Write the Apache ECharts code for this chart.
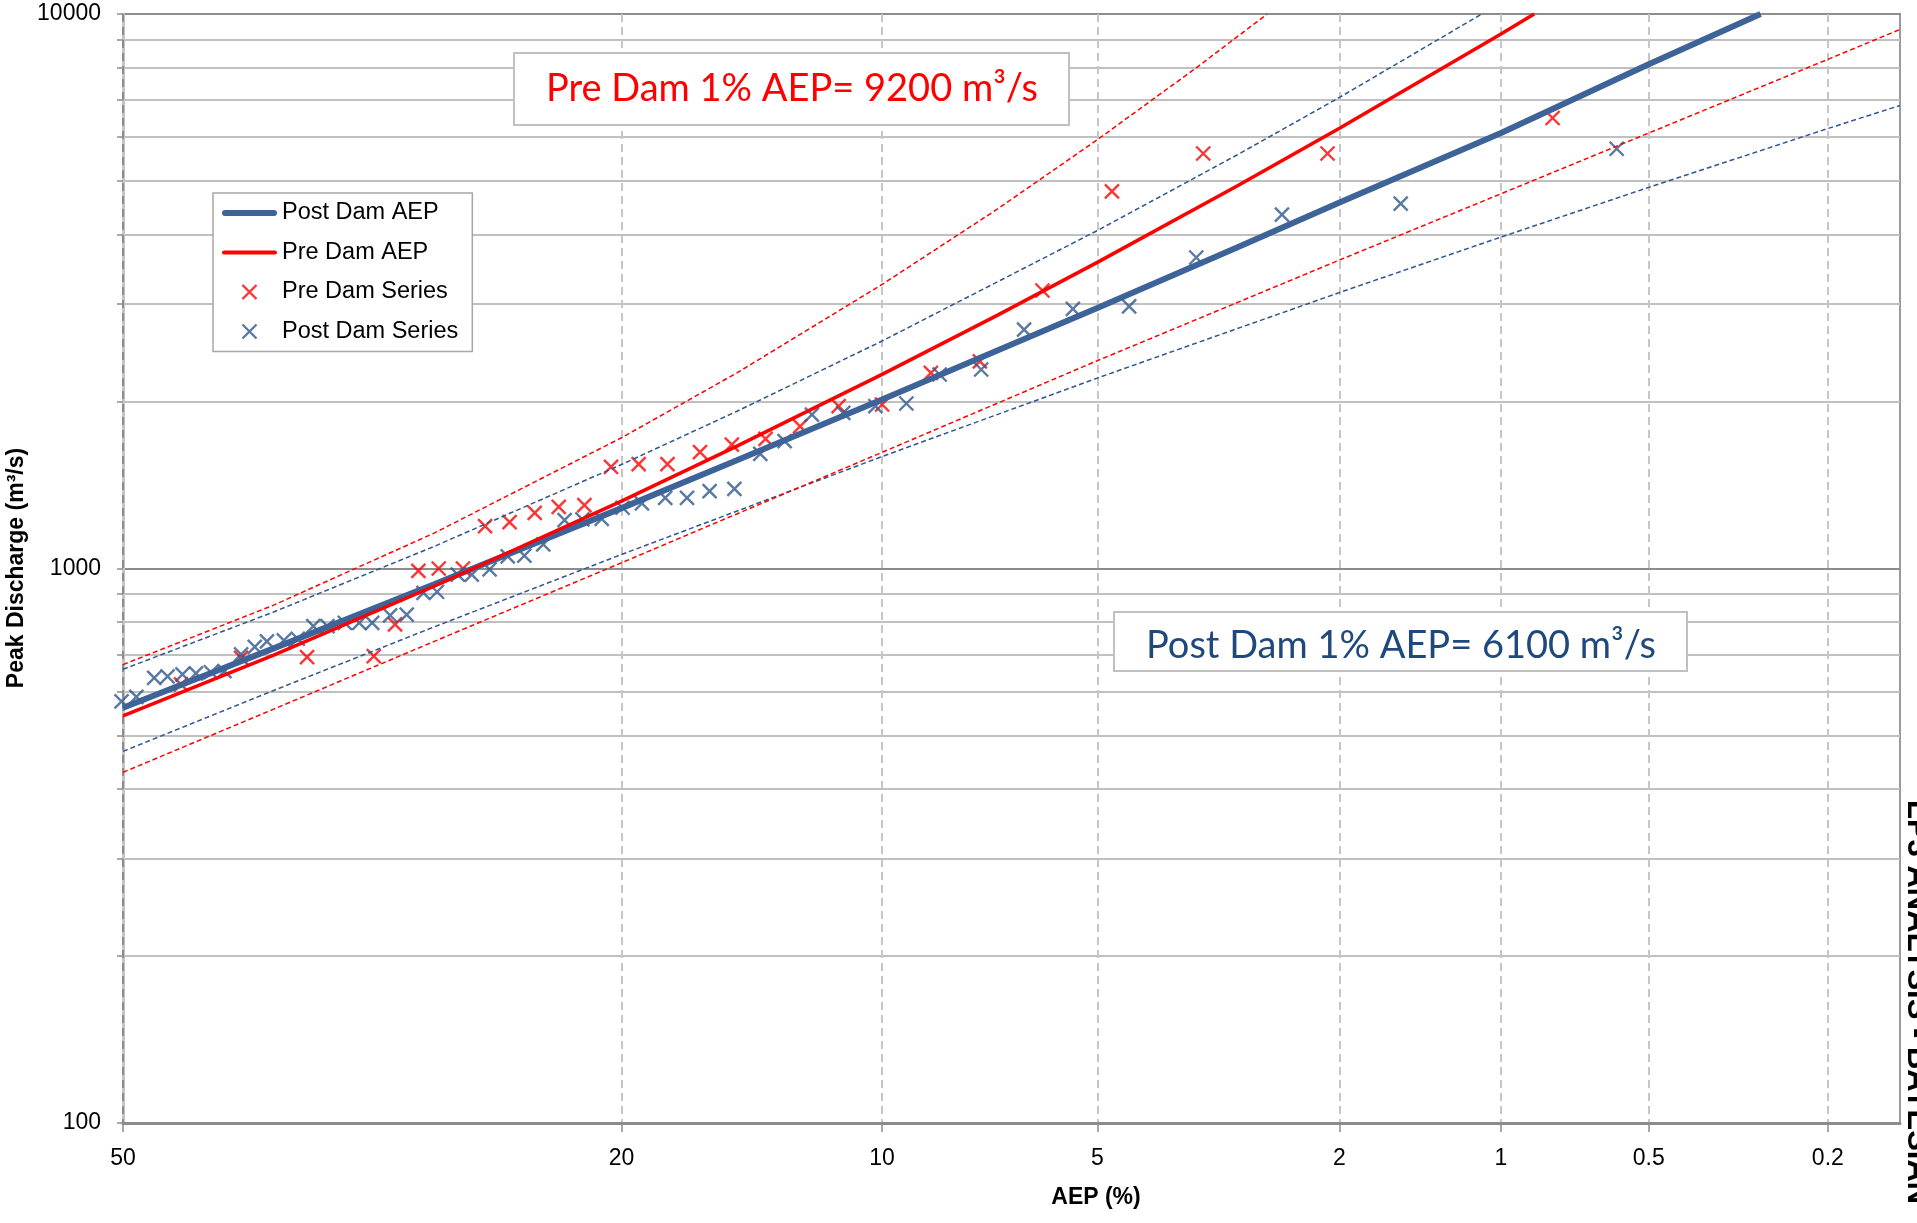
<!DOCTYPE html>
<html lang="en">

<head>
    <meta charset="UTF-8">
    <title>Flood Frequency - Pre and Post Dam</title>
    <style>
        html, body { margin: 0; padding: 0; background: #fff; }
    </style>
</head>

<body>
    <div id="main" style="width:1917px;height:1223px;"></div>
</body>

<script src="https://cdn.jsdelivr.net/npm/echarts@6/dist/echarts.min.js"></script>
<script>
    // x axis ticks (AEP %)
    var aepTicks = [50, 20, 10, 5, 2, 1, 0.5, 0.2];
    var qTicks = [100, 200, 300, 400, 500, 600, 700, 800, 900,
        1000, 2000, 3000, 4000, 5000, 6000, 7000, 8000, 9000, 10000];
    var qLabels = [100, 1000, 10000];

    // fitted curves
    var postAep = [50, 40, 30, 20, 15, 10, 5, 3, 2, 1, 0.5, 0.285];
    var postQ = [561, 717, 936, 1285, 1567, 2017, 2951, 3794, 4571, 6100, 8116, 10000];
    var preAep = [50, 40, 30, 20, 15, 10, 7, 5, 3, 2, 1, 0.86];
    var preQ = [542, 697, 928, 1323, 1662, 2239, 2861, 3565, 4895, 6223, 9200, 10000];

    // confidence limits
    var preUpAep = [50, 40, 30, 20, 15, 10, 7, 5, 3.5, 2.67];
    var preUpQ = [671, 858, 1157, 1721, 2253, 3253, 4446, 5932, 7998, 10000];
    var preLoAep = [50, 40, 30, 20, 10, 5, 2, 1, 0.5, 0.2, 0.135];
    var preLoQ = [429, 557, 738, 1024, 1620, 2370, 3600, 4740, 6100, 8283, 9378];
    var postUpAep = [50, 40, 30, 20, 15, 10, 5, 3, 2, 1.09];
    var postUpQ = [658, 834, 1095, 1540, 1921, 2572, 4068, 5569, 7072, 10000];
    var postLoAep = [50, 40, 30, 20, 10, 5, 2, 1, 0.5, 0.2, 0.135];
    var postLoQ = [468, 602, 784, 1060, 1592, 2205, 3146, 3960, 4868, 6214, 6839];

    // observed series
    var preSeriesAep = [46.1, 42.1, 37.8, 33.6, 32.3, 30.9, 29.7, 28.3, 27.05, 25.7, 24.35, 23.1, 21.8,
        20.5, 19.2, 17.9, 16.5, 15.2, 13.9, 12.65, 11.35, 10.0, 8.63, 7.4, 6.03, 4.75, 3.41, 2.1, 0.79];
    var preSeriesQ = [618, 690, 692, 695, 793, 990, 1000, 1000, 1192, 1212, 1260, 1292, 1301,
        1525, 1542, 1542, 1621, 1673, 1713, 1805, 1962, 1976, 2254, 2363, 3172, 4786, 5603, 5603, 6493];
    var postSeriesAep = [50.1, 49.1, 47.9, 47.0, 46.0, 45.1, 44.1, 43.2, 42.1, 41.2, 40.4, 39.3, 38.4,
        37.4, 36.5, 35.4, 34.5, 33.7, 32.6, 31.6, 30.6, 29.8, 28.6, 27.8, 26.8, 25.8, 24.9, 23.9, 22.8,
        21.9, 20.95, 19.95, 19.05, 18.0, 17.05, 16.1, 15.1, 14.1, 13.2, 12.24, 11.2, 10.2, 9.3, 8.4,
        7.37, 6.41, 5.44, 4.47, 3.5, 2.52, 1.55, 0.584];
    var postSeriesQ = [576, 587, 635, 639, 644, 647, 650, 653, 700, 722, 739, 742, 747,
        787, 787, 798, 798, 798, 823, 826, 904, 908, 975, 975, 996, 1052, 1055, 1105, 1222,
        1226, 1229, 1287, 1310, 1341, 1341, 1379, 1392, 1610, 1697, 1895, 1909, 1962, 1984, 2238,
        2285, 2697, 2940, 2970, 3638, 4346, 4550, 5715];

    // inverse standard normal (Acklam) - probability paper
    function normInv(p) {
        var a = [-3.969683028665376e+01, 2.209460984245205e+02, -2.759285104469687e+02, 1.383577518672690e+02, -3.066479806614716e+01, 2.506628277459239e+00];
        var b = [-5.447609879822406e+01, 1.615858368580409e+02, -1.556989798598866e+02, 6.680131188771972e+01, -1.328068155288572e+01];
        var c = [-7.784894002430293e-03, -3.223964580411365e-01, -2.400758277161838e+00, -2.549732539343734e+00, 4.374664141464968e+00, 2.938163982698783e+00];
        var d = [7.784695709041462e-03, 3.224671290700398e-01, 2.445134137142996e+00, 3.754408661907416e+00];
        var pl = 0.02425, q, r;
        if (p < pl) {
            q = Math.sqrt(-2 * Math.log(p));
            return (((((c[0] * q + c[1]) * q + c[2]) * q + c[3]) * q + c[4]) * q + c[5]) / ((((d[0] * q + d[1]) * q + d[2]) * q + d[3]) * q + 1);
        }
        if (p <= 1 - pl) {
            q = p - 0.5; r = q * q;
            return (((((a[0] * r + a[1]) * r + a[2]) * r + a[3]) * r + a[4]) * r + a[5]) * q / (((((b[0] * r + b[1]) * r + b[2]) * r + b[3]) * r + b[4]) * r + 1);
        }
        q = Math.sqrt(-2 * Math.log(1 - p));
        return -(((((c[0] * q + c[1]) * q + c[2]) * q + c[3]) * q + c[4]) * q + c[5]) / ((((d[0] * q + d[1]) * q + d[2]) * q + d[3]) * q + 1);
    }
    function aepToZ(aep) {
        return -normInv(aep / 100) + 0;
    }
    function pairs(aeps, qs) {
        return aeps.map(function (a, i) { return [aepToZ(a), qs[i]]; });
    }

    var blue = '#3d6398';
    var blueMark = '#2f578f';
    var red = '#ff0000';
    var font = 'Liberation Sans, Arial, sans-serif';
    var xMark = 'path://M0,0L14,14M14,0L0,14';

    var main = echarts.init(document.getElementById('main'));

    var dashed = function (name, aeps, qs, color) {
        return {
            name: name,
            type: 'line',
            data: pairs(aeps, qs),
            symbol: 'none',
            lineStyle: { color: color, width: 1.5, type: [5, 3] },
            silent: true
        };
    };

    var option = {
        animation: false,
        backgroundColor: '#fff',
        grid: {
            left: 123, right: 17, top: 14, bottom: 100,
            show: true, borderColor: '#9a9a9a', borderWidth: 2, backgroundColor: 'transparent'
        },
        legend: {
            orient: 'vertical',
            left: 213, top: 193,
            padding: [8, 14, 8, 9],
            itemGap: 15.5,
            itemWidth: 55,
            itemHeight: 14,
            backgroundColor: '#fff',
            borderColor: '#a6a6a6',
            borderWidth: 1.5,
            textStyle: { fontFamily: font, fontSize: 23.5, color: '#000' },
            data: [
                { name: 'Post Dam AEP', icon: 'path://M3,0L52,0A3,3 0 0 1 52,6L3,6A3,3 0 0 1 3,0Z', itemStyle: { color: blue, borderWidth: 0 } },
                { name: 'Pre Dam AEP', icon: 'path://M2,0L53,0A2,2 0 0 1 53,4L2,4A2,2 0 0 1 2,0Z', itemStyle: { color: red, borderWidth: 0 } },
                { name: 'Pre Dam Series', itemStyle: { color: 'transparent', borderColor: red, borderWidth: 2.4 } },
                { name: 'Post Dam Series', itemStyle: { color: 'transparent', borderColor: blueMark, borderWidth: 2.4 } }
            ]
        },
        xAxis: {
            type: 'value',
            min: 0,
            max: 3,
            z: 1,
            axisLine: { lineStyle: { color: '#8c8c8c', width: 3 } },
            axisTick: {
                customValues: aepTicks.map(aepToZ),
                length: 9,
                lineStyle: { color: '#8c8c8c', width: 1.5 }
            },
            axisLabel: {
                customValues: aepTicks.map(aepToZ),
                margin: 24,
                fontFamily: font,
                fontSize: 23,
                color: '#000',
                formatter: function (v) {
                    for (var i = 0; i < aepTicks.length; i++) {
                        if (Math.abs(aepToZ(aepTicks[i]) - v) < 1e-6) return String(aepTicks[i]);
                    }
                    return '';
                }
            },
            splitLine: {
                show: true,
                lineStyle: {
                    color: ['#8c8c8c', '#c6c6c6', '#c6c6c6', '#c6c6c6', '#c6c6c6', '#c6c6c6', '#c6c6c6', '#c6c6c6'],
                    width: 2,
                    type: [8, 5]
                }
            }
        },
        yAxis: {
            type: 'log',
            logBase: 10,
            min: 100,
            max: 10000,
            axisLine: { show: true, lineStyle: { color: '#c4c4c4', width: 3 } },
            axisTick: {
                customValues: qTicks,
                length: 6,
                lineStyle: { color: '#8c8c8c', width: 1.5 }
            },
            axisLabel: {
                customValues: qLabels,
                margin: 22,
                fontFamily: font,
                fontSize: 23,
                color: '#000',
                formatter: function (v) { return String(Math.round(v)); }
            },
            splitLine: {
                show: true,
                lineStyle: {
                    color: ['#8c8c8c', '#c0c0c0', '#c0c0c0', '#c0c0c0', '#c0c0c0', '#c0c0c0', '#c0c0c0', '#c0c0c0', '#c0c0c0'],
                    width: 2
                }
            }
        },
        series: [
            dashed('Post Dam Upper', postUpAep, postUpQ, '#2e5791'),
            dashed('Post Dam Lower', postLoAep, postLoQ, '#2e5791'),
            dashed('Pre Dam Upper', preUpAep, preUpQ, red),
            dashed('Pre Dam Lower', preLoAep, preLoQ, red),
            {
                name: 'Post Dam AEP',
                type: 'line',
                data: pairs(postAep, postQ),
                symbol: 'none',
                lineStyle: { color: blue, width: 6 },
                itemStyle: { color: blue }
            },
            {
                name: 'Pre Dam AEP',
                type: 'line',
                data: pairs(preAep, preQ),
                symbol: 'none',
                lineStyle: { color: red, width: 3.5 },
                itemStyle: { color: red }
            },
            {
                name: 'Pre Dam Series',
                type: 'scatter',
                data: pairs(preSeriesAep, preSeriesQ),
                symbol: xMark,
                symbolSize: 14,
                clip: false,
                itemStyle: { color: 'transparent', borderColor: red, borderWidth: 2.4 }
            },
            {
                name: 'Post Dam Series',
                type: 'scatter',
                data: pairs(postSeriesAep, postSeriesQ),
                symbol: xMark,
                symbolSize: 14,
                clip: false,
                itemStyle: { color: 'transparent', borderColor: blueMark, borderWidth: 2.4 }
            }
        ],
        graphic: [
            {
                type: 'rect', z: 10,
                shape: { x: 514, y: 53, width: 555, height: 72 },
                style: { fill: '#fff', stroke: '#c0c0c0', lineWidth: 2 }
            },
            {
                type: 'text', z: 11, x: 792, y: 89,
                style: {
                    text: 'Pre Dam 1% AEP= 9200 m³/s', fill: red,
                    font: '38px Lato, sans-serif', textAlign: 'center', textVerticalAlign: 'middle'
                }
            },
            {
                type: 'rect', z: 10,
                shape: { x: 1114, y: 612, width: 573, height: 59 },
                style: { fill: '#fff', stroke: '#c0c0c0', lineWidth: 2 }
            },
            {
                type: 'text', z: 11, x: 1401, y: 646,
                style: {
                    text: 'Post Dam 1% AEP= 6100 m³/s', fill: '#1f497d',
                    font: '38px Lato, sans-serif', textAlign: 'center', textVerticalAlign: 'middle'
                }
            },
            {
                type: 'text', z: 11, x: 17, y: 568, rotation: Math.PI / 2,
                style: {
                    text: 'Peak Discharge (m³/s)', fill: '#000',
                    font: 'bold 23px Liberation Sans, Arial, sans-serif', textAlign: 'center', textVerticalAlign: 'middle'
                }
            },
            {
                type: 'text', z: 11, x: 1096, y: 1198,
                style: {
                    text: 'AEP (%)', fill: '#000',
                    font: 'bold 23px Liberation Sans, Arial, sans-serif', textAlign: 'center', textVerticalAlign: 'middle'
                }
            },
            {
                type: 'text', z: 11, x: 1917, y: 800, rotation: -Math.PI / 2,
                style: {
                    text: 'LP3 ANALYSIS - BAYESIAN', fill: '#000',
                    font: 'bold 31px Liberation Sans, Arial, sans-serif', textAlign: 'left', textVerticalAlign: 'middle'
                }
            }
        ]
    };
    main.setOption(option);
</script>

</html>
